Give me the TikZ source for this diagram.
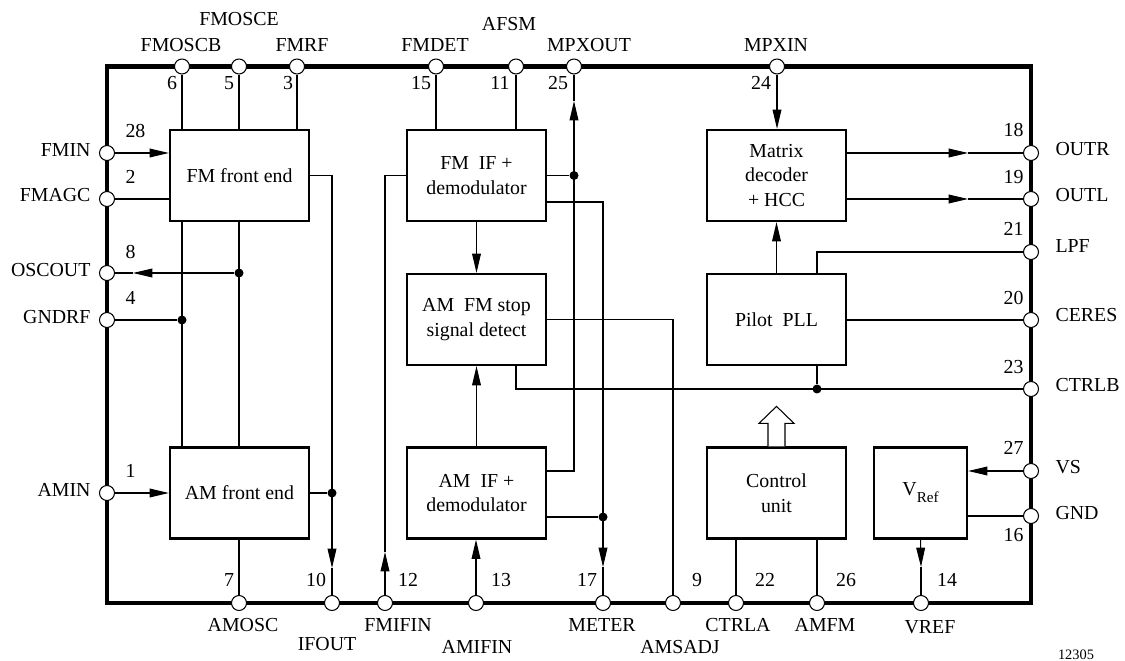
\documentclass[tikz,border=0pt]{standalone}
\usepackage{fontspec}
\setmainfont{Liberation Serif}
\usetikzlibrary{arrows.meta}

\tikzset{
  blk/.style={draw, line width=1.3pt, minimum width=2.78cm, minimum height=1.82cm,
    align=center, inner sep=0pt, font=\fontsize{11.3}{14}\selectfont},
  icpin/.style={circle, draw, fill=white, line width=0.6pt, minimum size=0.3cm, inner sep=0pt},
  jdot/.style={circle, fill=black, minimum size=0.18cm, inner sep=0pt},
  lbl/.style={inner sep=0pt, text height=7.4pt, text depth=0pt, font=\fontsize{11.3}{14}\selectfont},
  arr/.style={-{Triangle[length=11pt,width=5pt]}},
}

\begin{document}
\begin{tikzpicture}[x=0.02cm, y=-0.02cm, line width=0.6pt]
    \useasboundingbox (0,0) rectangle (1125,661);

    % Chip outline
    \draw[line width=2.6pt] (107,66.5) rectangle (1031,603);

    % Blocks
    \node[blk] (fmfe) at (239.5,175.5) {FM front end};
    \node[blk] (amfe) at (239.5,493) {AM front end};
    \node[blk] (fmif) at (476.5,175.5) {FM~~IF +\\demodulator};
    \node[blk] (stop) at (476.5,319.5) {AM~~FM stop\\signal detect};
    \node[blk] (amif) at (476.5,493) {AM~~IF +\\demodulator};
    \node[blk] (mtx) at (776.5,175.5) {Matrix\\decoder\\+ HCC};
    \node[blk] (pll) at (776.5,319.5) {Pilot~~PLL};
    \node[blk] (ctrl) at (776.5,493) {Control\\unit};
    \node[blk, minimum width=1.86cm] (vref) at (920.5,493)
        {V\raisebox{-4pt}{\fontsize{8.6}{10}\selectfont Ref}};

    % Pins, top
    \node[icpin] (p6) at (182,66.5) {};
    \node[icpin] (p5) at (239,66.5) {};
    \node[icpin] (p3) at (297,66.5) {};
    \node[icpin] (p15) at (436,66.5) {};
    \node[icpin] (p11) at (516,66.5) {};
    \node[icpin] (p25) at (574,66.5) {};
    \node[icpin] (p24) at (777,66.5) {};
    % Pins, left
    \node[icpin] (p28) at (107,153) {};
    \node[icpin] (p2) at (107,199) {};
    \node[icpin] (p8) at (107,273) {};
    \node[icpin] (p4) at (107,320) {};
    \node[icpin] (p1) at (107,493) {};
    % Pins, right
    \node[icpin] (p18) at (1031,153) {};
    \node[icpin] (p19) at (1031,199) {};
    \node[icpin] (p21) at (1031,252) {};
    \node[icpin] (p20) at (1031,320) {};
    \node[icpin] (p23) at (1031,389) {};
    \node[icpin] (p27) at (1031,471) {};
    \node[icpin] (p16) at (1031,516) {};
    % Pins, bottom
    \node[icpin] (p7) at (239,603) {};
    \node[icpin] (p10) at (332,603) {};
    \node[icpin] (p12) at (385,603) {};
    \node[icpin] (p13) at (476,603) {};
    \node[icpin] (p17) at (603,603) {};
    \node[icpin] (p9) at (673,603) {};
    \node[icpin] (p22) at (736,603) {};
    \node[icpin] (p26) at (817,603) {};
    \node[icpin] (p14) at (921,603) {};

    % Pin names
    \node[lbl] (tFMOSCB) at (181,45) {FMOSCB};
    \node[lbl] (tFMOSCE) at (239,19) {FMOSCE};
    \node[lbl] (tFMRF) at (302,45) {FMRF};
    \node[lbl] (tFMDET) at (435,45) {FMDET};
    \node[lbl] (tAFSM) at (509,24) {AFSM};
    \node[lbl] (tMPXOUT) at (589,45) {MPXOUT};
    \node[lbl] (tMPXIN) at (776,45) {MPXIN};
    \node[lbl, anchor=east] (tFMIN) at (91,150) {FMIN};
    \node[lbl, anchor=east] (tFMAGC) at (91,195) {FMAGC};
    \node[lbl, anchor=east] (tOSCOUT) at (91,270) {OSCOUT};
    \node[lbl, anchor=east] (tGNDRF) at (91,317) {GNDRF};
    \node[lbl, anchor=east] (tAMIN) at (91,490) {AMIN};
    \node[lbl, anchor=west] (tOUTR) at (1055,149) {OUTR};
    \node[lbl, anchor=west] (tOUTL) at (1055,195) {OUTL};
    \node[lbl, anchor=west] (tLPF) at (1055,246) {LPF};
    \node[lbl, anchor=west] (tCERES) at (1055,315) {CERES};
    \node[lbl, anchor=west] (tCTRLB) at (1055,385) {CTRLB};
    \node[lbl, anchor=west] (tVS) at (1055,467) {VS};
    \node[lbl, anchor=west] (tGND) at (1055,513) {GND};
    \node[lbl] (tAMOSC) at (243,625) {AMOSC};
    \node[lbl] (tIFOUT) at (327,644) {IFOUT};
    \node[lbl] (tFMIFIN) at (398,625) {FMIFIN};
    \node[lbl] (tAMIFIN) at (477,647) {AMIFIN};
    \node[lbl] (tMETER) at (602,625) {METER};
    \node[lbl] (tAMSADJ) at (680,647) {AMSADJ};
    \node[lbl] (tCTRLA) at (738,625) {CTRLA};
    \node[lbl] (tAMFM) at (825,625) {AMFM};
    \node[lbl] (tVREF) at (930,627) {VREF};

    % Pin numbers
    \node[lbl] (n6) at (172,83) {6};
    \node[lbl] (n5) at (229,83) {5};
    \node[lbl] (n3) at (288,83) {3};
    \node[lbl] (n15) at (421,83) {15};
    \node[lbl] (n11) at (500,83) {11};
    \node[lbl] (n25) at (558,83) {25};
    \node[lbl] (n24) at (761,83) {24};
    \node[lbl, anchor=west] (n28) at (125,131) {28};
    \node[lbl, anchor=west] (n2) at (125,177) {2};
    \node[lbl, anchor=west] (n8) at (125,252) {8};
    \node[lbl, anchor=west] (n4) at (125,298) {4};
    \node[lbl, anchor=west] (n1) at (125,471) {1};
    \node[lbl, anchor=east] (n18) at (1024,130) {18};
    \node[lbl, anchor=east] (n19) at (1024,177) {19};
    \node[lbl, anchor=east] (n21) at (1024,229) {21};
    \node[lbl, anchor=east] (n20) at (1024,298) {20};
    \node[lbl, anchor=east] (n23) at (1024,367) {23};
    \node[lbl, anchor=east] (n27) at (1024,448) {27};
    \node[lbl, anchor=east] (n16) at (1024,535) {16};
    \node[lbl] (n7) at (229,580) {7};
    \node[lbl] (n10) at (316,580) {10};
    \node[lbl] (n12) at (408,580) {12};
    \node[lbl] (n13) at (501,580) {13};
    \node[lbl] (n17) at (587,580) {17};
    \node[lbl] (n9) at (697,580) {9};
    \node[lbl] (n22) at (765,580) {22};
    \node[lbl] (n26) at (846,580) {26};
    \node[lbl] (n14) at (947,580) {14};

    % Junction dots
    \node[jdot] (d1) at (p5 |- p8) {};
    \node[jdot] (d2) at (p6 |- p4) {};
    \node[jdot] (d3) at (p10 |- amfe.east) {};
    \node[jdot] (d4) at (p25 |- fmif.east) {};
    \node[jdot] (d5) at (603,517) {};
    \node[jdot] (d6) at (p26 |- p23) {};

    % Arrow tip points on long wires
    \coordinate (toscout) at (133,273);
    \coordinate (tifout) at (332,568);
    \coordinate (tfmifin) at (385,552);
    \coordinate (tmpxout) at (574,101);
    \coordinate (tmeter) at (603,567);
    \coordinate (tvref) at (921,567);
    \coordinate (toutr) at (968,153);
    \coordinate (toutl) at (968,199);
    \coordinate (fmifo) at (546,202);
    \coordinate (amifo) at (546,471);

    % FM / AM front ends
    \draw (p6) -- (fmfe.north -| p6);
    \draw (p5) -- (fmfe.north -| p5);
    \draw (p3) -- (fmfe.north -| p3);
    \draw[arr] (p28) -- (fmfe.west |- p28);
    \draw (p2) -- (fmfe.west |- p2);
    \draw (fmfe.south -| p6) -- (amfe.north -| p6);
    \draw (fmfe.south -| p5) -- (amfe.north -| p5);
    \draw[arr] (d1) -- (toscout);
    \draw (toscout) -- (p8);
    \draw (p4) -- (d2);
    \draw[arr] (p1) -- (amfe.west |- p1);
    \draw (amfe.south -| p7) -- (p7);
    \draw[arr] (fmfe.east) -| (tifout);
    \draw (tifout) -- (p10);
    \draw (amfe.east) -- (d3);

    % IF stages
    \draw[arr] (p12) -- (tfmifin);
    \draw (tfmifin) |- (fmif.west);
    \draw (p15) -- (fmif.north -| p15);
    \draw (p11) -- (fmif.north -| p11);
    \draw[arr] (fmif.south) -- (stop.north);
    \draw[arr] (amif.north) -- (stop.south);
    \draw[arr] (p13) -- (amif.south -| p13);
    \draw (fmif.east) -- (d4);
    \draw[arr] (amifo) -| (tmpxout);
    \draw (tmpxout) -- (p25);
    \draw[arr] (fmifo) -| (tmeter);
    \draw (tmeter) -- (p17);
    \draw (amif.east |- d5) -- (d5);
    \draw (stop.east) -| (p9);
    \draw (p23) -| (stop.south -| p11);

    % Stereo decoder
    \draw[arr] (p24) -- (mtx.north -| p24);
    \draw[arr] (mtx.east |- p18) -- (toutr);
    \draw (toutr) -- (p18);
    \draw[arr] (mtx.east |- p19) -- (toutl);
    \draw (toutl) -- (p19);
    \draw[arr] (pll.north) -- (mtx.south);
    \draw (pll.north -| p26) |- (p21);
    \draw (pll.east |- p20) -- (p20);
    \draw (pll.south -| p26) -- (d6);

    % Control unit and reference
    \draw[fill=white] (ctrl.north) ++(-8.5,0) -- ++(0,-23) -- ++(-9,0) -- ++(17.5,-17)
        -- ++(17.5,17) -- ++(-9,0) -- ++(0,23);
    \draw (ctrl.south -| p22) -- (p22);
    \draw (ctrl.south -| p26) -- (p26);
    \draw[arr] (p27) -- (vref.east |- p27);
    \draw (vref.east |- p16) -- (p16);
    \draw[arr] (vref.south) -- (tvref);
    \draw (tvref) -- (p14);

    \node[font=\fontsize{8.2}{10}\selectfont] (fig) at (1076,655) {12305};
\end{tikzpicture}
\end{document}
